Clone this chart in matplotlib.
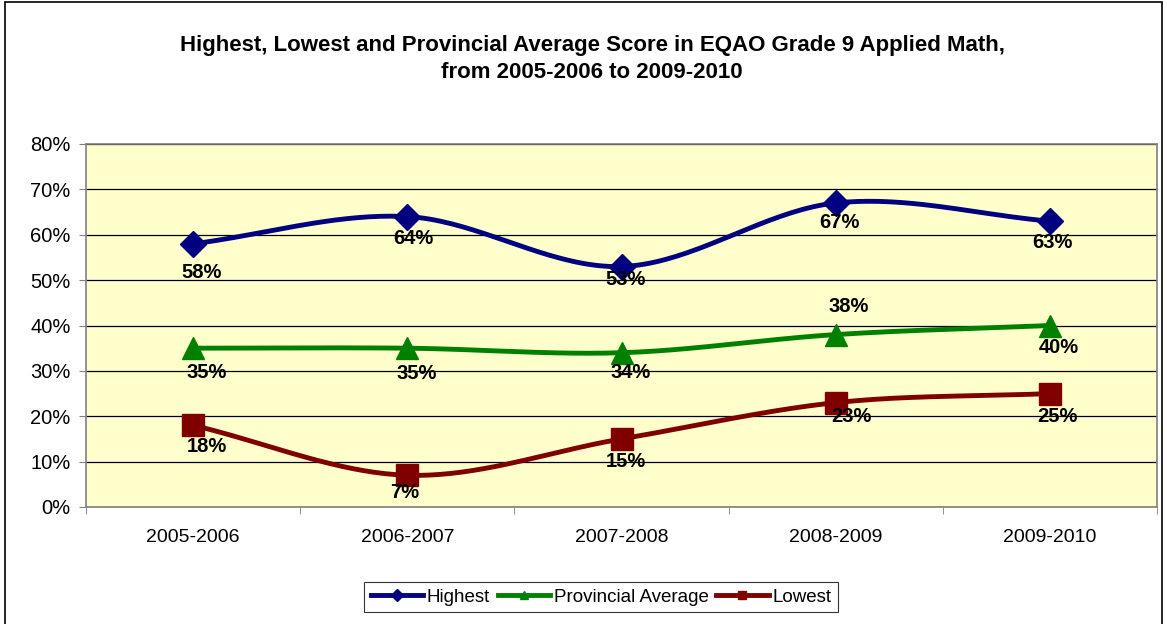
import matplotlib.pyplot as plt
import numpy as np
from matplotlib.patches import Rectangle

plt.rcParams['font.family'] = ['Liberation Sans', 'DejaVu Sans']

years = ['2005-2006', '2006-2007', '2007-2008', '2008-2009', '2009-2010']
highest = [58, 64, 53, 67, 63]
provincial = [35, 35, 34, 38, 40]
lowest = [18, 7, 15, 23, 25]

# label offsets in pixels (dx, dy), as placed in the original
hi_off = [(8, -29), (6, -22), (4, -13), (4, -20), (3, -21)]
pr_off = [(14, -24), (9, -25), (9, -20), (13, 28), (9, -22)]
lo_off = [(14, -21), (-3, -17), (4, -23), (16, -14), (8, -23)]


def smooth(y, n=40):
    # Catmull-Rom curve through the points, like Excel's smoothed line
    x = np.arange(len(y), dtype=float)
    y = np.asarray(y, dtype=float)
    px = np.concatenate([[2 * x[0] - x[1]], x, [2 * x[-1] - x[-2]]])
    py = np.concatenate([[2 * y[0] - y[1]], y, [2 * y[-1] - y[-2]]])
    xs, ys = [], []
    t = np.linspace(0, 1, n)
    for i in range(1, len(px) - 2):
        for p, out in ((px, xs), (py, ys)):
            p0, p1, p2, p3 = p[i - 1], p[i], p[i + 1], p[i + 2]
            out.extend(0.5 * (2 * p1 + (-p0 + p2) * t
                              + (2 * p0 - 5 * p1 + 4 * p2 - p3) * t ** 2
                              + (-p0 + 3 * p1 - 3 * p2 + p3) * t ** 3))
    return np.array(xs), np.array(ys)


fig = plt.figure(figsize=(11.67, 6.24), dpi=100)
ax = fig.add_axes([86 / 1167, 1 - 507 / 624, 1071 / 1167, 363 / 624])
ax.set_facecolor('#FFFFCC')

series = [
    ('Highest', highest, '#000080', 'D', 13, hi_off),
    ('Provincial Average', provincial, '#008000', '^', 16, pr_off),
    ('Lowest', lowest, '#800000', 's', 16, lo_off),
]
x = np.arange(len(years))
handles = []
for name, vals, col, mk, ms, offs in series:
    sx, sy = smooth(vals)
    ax.plot(sx, sy, color=col, linewidth=3.5, solid_capstyle='round', zorder=3)
    ax.plot(x, vals, linestyle='none', marker=mk, markersize=ms, color=col, zorder=4)
    h, = ax.plot([], [], color=col, linewidth=3.5, marker=mk, markersize=6, label=name)
    handles.append(h)
    for xi, v, (dx, dy) in zip(x, vals, offs):
        ax.annotate(f'{v}%', (xi, v), xytext=(dx * 0.72, dy * 0.72), textcoords='offset points',
                    ha='center', va='center', fontsize=14.5, fontweight='bold', zorder=5)

ax.set_xlim(-0.5, 4.5)
ax.set_ylim(0, 80)
ax.set_yticks(range(0, 81, 10))
ax.set_yticklabels([f'{v}%' for v in range(0, 81, 10)], fontsize=14.5)
ax.yaxis.grid(True, color='black', linewidth=0.9)
ax.set_axisbelow(True)
ax.set_xticks(x)
ax.set_xticklabels(years, fontsize=14)
ax.set_xticks(np.arange(-0.5, 5, 1), minor=True)
ax.tick_params(axis='x', which='major', length=0, pad=16)
ax.tick_params(axis='x', which='minor', length=5, direction='out', color='#808080')
ax.tick_params(axis='y', length=5, direction='out', color='#808080', pad=6)
for s in ax.spines.values():
    s.set_color('#808080')
    s.set_linewidth(1.2)

fig.text(592 / 1167, 1 - 45 / 624,
         'Highest, Lowest and Provincial Average Score in EQAO Grade 9 Applied Math,',
         ha='center', va='center', fontsize=16, fontweight='bold')
fig.text(592 / 1167, 1 - 73 / 624, 'from 2005-2006 to 2009-2010',
         ha='center', va='center', fontsize=16, fontweight='bold')

leg = fig.legend(handles=handles, loc='center', bbox_to_anchor=(601 / 1167, 1 - 597 / 624),
                 ncol=3, fontsize=13.5, frameon=True, fancybox=False, handlelength=2.8,
                 handletextpad=0.2, columnspacing=0.4, borderpad=0.35, borderaxespad=0)
leg.get_frame().set_edgecolor('black')
leg.get_frame().set_linewidth(0.8)

fig.add_artist(Rectangle((5 / 1167, -0.05), 1157 / 1167, 1.05 - 2 / 624,
                         transform=fig.transFigure, fill=False, edgecolor='black',
                         linewidth=1.2))

fig.savefig('out.png', dpi=100)
